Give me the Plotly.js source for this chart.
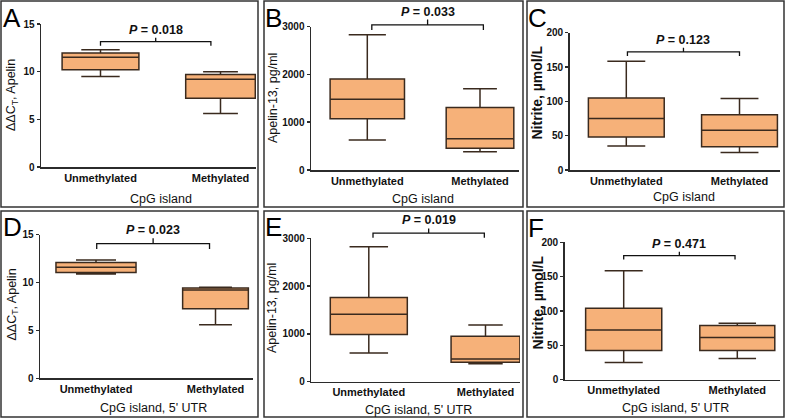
<!DOCTYPE html>
<html>
<head>
<meta charset="utf-8">
<script src="https://cdn.plot.ly/plotly-3.0.1.min.js"></script>
<style>
body { margin: 0; background: #fff; }
#chart { width: 786px; height: 419px; }
</style>
</head>
<body>
<div id="chart"></div>
<script>
var groups = ['Unmethylated', 'Methylated'];

// box statistics, one pair [unmethylated, methylated] per panel A..F
var lowerFence = [[9.5, 5.6], [630, 380], [35, 25.5], [10.9, 5.6], [600, 377], [25, 31]];
var q1Vals     = [[10.2, 7.2], [1075, 455], [48, 34], [11.05, 7.27], [990, 405], [42.5, 42.5]];
var medianVals = [[11.5, 9.2], [1480, 655], [75, 58], [11.6, 9.22], [1410, 474], [72.5, 61.5]];
var q3Vals     = [[11.95, 9.7], [1905, 1310], [105, 80.5], [12.1, 9.43], [1760, 950], [104, 79]];
var upperFence = [[12.3, 10.0], [2830, 1700], [158.5, 104], [12.35, 9.5], [2825, 1186], [158.5, 82]];

var panelLetters = ['A', 'B', 'C', 'D', 'E', 'F'];
var pValues = ['0.018', '0.033', '0.123', '0.023', '0.019', '0.471'];
var yTitles = ['ΔΔC<sub>T</sub>, Apelin', 'Apelin-13, pg/ml', '<b>Nitrite, µmol/L</b>',
               'ΔΔC<sub>T</sub>, Apelin', 'Apelin-13, pg/ml', '<b>Nitrite, µmol/L</b>'];
var xTitles = ['CpG island', 'CpG island', 'CpG island',
               "CpG island, 5' UTR", "CpG island, 5' UTR", "CpG island, 5' UTR"];
var yMax = [15, 3000, 200, 15, 3000, 200];
var yStep = [5, 1000, 50, 5, 1000, 50];

// significance bracket: level, leg drop, start/end (category units)
var bracketLevel = [13.15, 3040, 172, 14.06, 3110, 180.6];
var bracketDrop = [0.42, 110, 6, 0.56, 97, 5.8];
var bracketFrom = [0, 0.04, 0.01, 0.006, 0.036, 0];
var bracketTo = [0.92, 1.03, 1.0, 0.95, 0.99, 0.98];

// layout in pixels
var W = 786, H = 419;
function fx(px) { return px / W; }
function fy(px) { return 1 - px / H; }

var plotBox = [ // left, right, top, bottom
  [41, 256, 24, 167], [311, 519, 26.7, 170], [569.7, 780, 32.7, 170],
  [40, 253, 234.7, 378.3], [311.3, 520, 238.3, 381.7], [564.7, 780, 242.3, 379.7]];
var boxCenters = [[100.5, 220.5], [367.3, 480], [626.3, 739.5],
                  [96, 215.5], [368.8, 485.5], [623.7, 737.3]];
var boxWidths = [[0.64, 0.58], [0.66, 0.6], [0.67, 0.67], [0.67, 0.55], [0.66, 0.59], [0.67, 0.66]];
var frames = [[1, 258, 1, 207], [264, 523, 1, 207], [527, 784, 1, 207],
              [1, 258, 211, 417], [264, 523, 211, 417], [527, 784, 211, 417]];
var letterPos = [[2, 2], [264, 2], [527, 2], [2, 211], [264, 211], [527, 212]];
var yTitlePos = [[12, 95], [273, 98], [537, 92.5], [12.5, 305], [272, 308], [537, 302.5]];
var xTitlePos = [[161, 199], [422.7, 199], [684, 197], [153, 408], [418.7, 410], [675.7, 408]];

var FONT = 'Liberation Sans, Arial, sans-serif';
var FILL = '#F6B179';
var EDGE = '#3a2a1e';
var AXIS = '#2b2b2b';

var data = [];
var layout = {
  width: W, height: H,
  margin: {l: 0, r: 0, t: 0, b: 0},
  paper_bgcolor: '#fff', plot_bgcolor: 'rgba(0,0,0,0)',
  showlegend: false,
  font: {family: FONT, color: '#111'},
  shapes: [], annotations: []
};

for (var i = 0; i < 6; i++) {
  var n = i === 0 ? '' : String(i + 1);
  var b = plotBox[i], c = boxCenters[i];
  var span = c[1] - c[0];

  for (var g = 0; g < 2; g++) {
    data.push({
      type: 'box',
      x: [groups[g]],
      q1: [q1Vals[i][g]], median: [medianVals[i][g]], q3: [q3Vals[i][g]],
      lowerfence: [lowerFence[i][g]], upperfence: [upperFence[i][g]],
      width: boxWidths[i][g], whiskerwidth: 0.5,
      fillcolor: FILL, line: {color: EDGE, width: 1.5},
      xaxis: 'x' + n, yaxis: 'y' + n, hoverinfo: 'skip'
    });
  }

  layout['xaxis' + n] = {
    domain: [fx(b[0]), fx(b[1])],
    anchor: 'y' + n,
    type: 'category', categoryorder: 'array', categoryarray: groups,
    range: [(b[0] - c[0]) / span, (b[1] - c[0]) / span],
    showline: true, linecolor: AXIS, linewidth: 1.5,
    showgrid: false, zeroline: false, ticks: '',
    tickfont: {size: 11, family: FONT, color: '#111', weight: 'bold'}
  };
  layout['yaxis' + n] = {
    domain: [fy(b[3]), fy(b[2])],
    anchor: 'x' + n,
    range: [0, yMax[i]], dtick: yStep[i], tick0: 0,
    showline: true, linecolor: AXIS, linewidth: 1.5,
    showgrid: false, zeroline: false,
    ticks: 'outside', ticklen: 3, tickwidth: 1.5, tickcolor: AXIS,
    tickfont: {size: 10, family: FONT, color: '#111', weight: 'bold'}
  };

  // data -> pixel helpers for the bracket
  var xp = (function (cc, s) { return function (v) { return cc + v * s; }; })(c[0], span);
  var yp = (function (bb, m) { return function (v) { return bb[3] - v / m * (bb[3] - bb[2]); }; })(b, yMax[i]);

  var lv = bracketLevel[i], dr = bracketDrop[i];
  var x0 = xp(bracketFrom[i]), x1 = xp(bracketTo[i]), xm = (x0 + x1) / 2;
  layout.shapes.push({
    type: 'path', xref: 'paper', yref: 'paper',
    path: 'M' + fx(x0) + ',' + fy(yp(lv - dr)) + ' L' + fx(x0) + ',' + fy(yp(lv)) +
          ' L' + fx(x1) + ',' + fy(yp(lv)) + ' L' + fx(x1) + ',' + fy(yp(lv - dr)) +
          ' M' + fx(xm) + ',' + fy(yp(lv)) + ' L' + fx(xm) + ',' + fy(yp(lv + dr)),
    line: {color: '#111', width: 1.3}
  });
  layout.annotations.push({
    xref: 'paper', yref: 'paper', x: fx(xm), y: fy(yp(lv + dr)),
    xanchor: 'center', yanchor: 'bottom', showarrow: false, yshift: -1,
    text: '<b><i>P</i> = ' + pValues[i] + '</b>',
    font: {size: 12.5, family: FONT, color: '#111'}
  });

  // panel frame
  var f = frames[i];
  layout.shapes.push({
    type: 'rect', xref: 'paper', yref: 'paper',
    x0: fx(f[0]), x1: fx(f[1]), y0: fy(f[3]), y1: fy(f[2]),
    line: {color: '#333', width: 1.5}
  });

  layout.annotations.push({
    xref: 'paper', yref: 'paper', x: fx(letterPos[i][0]), y: fy(letterPos[i][1]),
    xanchor: 'left', yanchor: 'top', showarrow: false, borderpad: 0,
    text: panelLetters[i], font: {size: 26, family: FONT, color: '#000'}
  });
  layout.annotations.push({
    xref: 'paper', yref: 'paper', x: fx(yTitlePos[i][0]), y: fy(yTitlePos[i][1]),
    xanchor: 'center', yanchor: 'middle', showarrow: false, textangle: -90,
    text: yTitles[i], font: {size: (i % 3 === 2) ? 14 : 12.5, family: FONT, color: '#111'}
  });
  layout.annotations.push({
    xref: 'paper', yref: 'paper', x: fx(xTitlePos[i][0]), y: fy(xTitlePos[i][1]),
    xanchor: 'center', yanchor: 'middle', showarrow: false,
    text: xTitles[i], font: {size: 12.5, family: FONT, color: '#111'}
  });
}

Plotly.newPlot('chart', data, layout, {staticPlot: true});
</script>
</body>
</html>
